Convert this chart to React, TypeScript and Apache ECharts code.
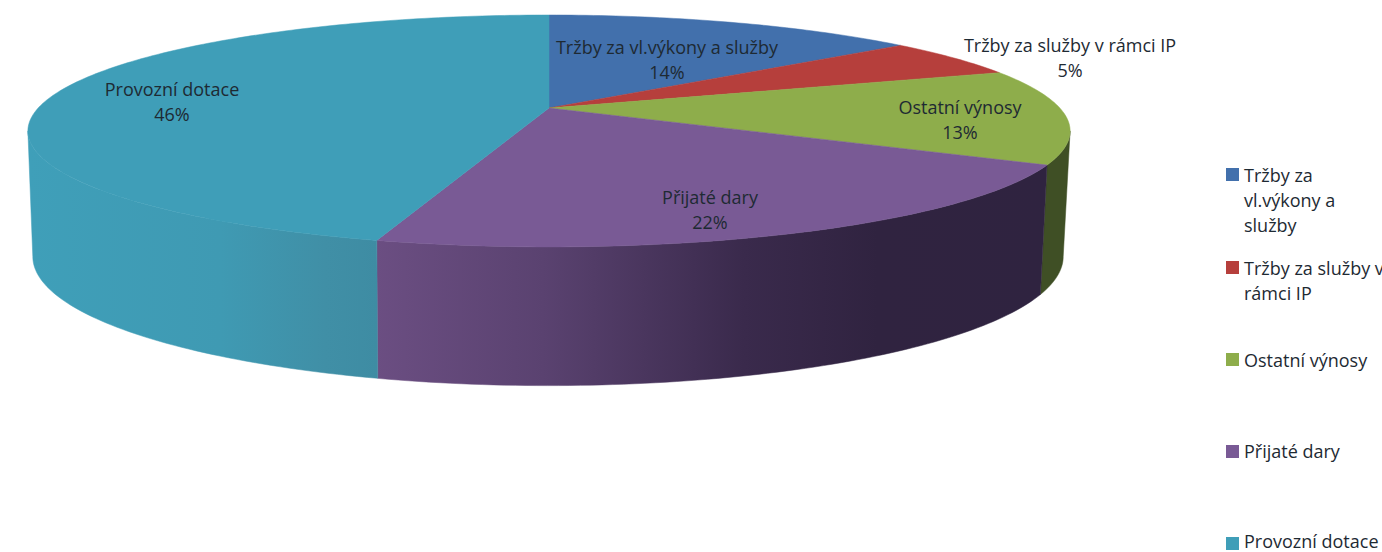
import React, { useEffect, useRef } from "react";
import * as echarts from "echarts";

const categories = [
  "Tržby za vl.výkony a služby",
  "Tržby za služby v rámci IP",
  "Ostatní výnosy",
  "Přijaté dary",
  "Provozní dotace",
];
const shares = [14.1, 5.4, 13.2, 21.7, 45.6];
const legendNames = [
  "Tržby za\nvl.výkony a\nslužby",
  "Tržby za služby v\nrámci IP",
  "Ostatní výnosy",
  "Přijaté dary",
  "Provozní dotace",
];
const topColors = ["#4270AC", "#B63F3C", "#8EAD4B", "#795A95", "#3F9EB8"];

// layout
const FONT = "'Open Sans'";
const FONT_SIZE = 18;
const TEXT = "#1E2A33";
const TOP = { cx: 549, cy: 108, r: 510.8, k: 111.4, p: -0.198 };
const BOTTOM = { cx: 548, cy: 231, r: 505, k: 124, p: -0.198 };
const SIDE_FROM = 101.4;
const SIDE_TO = 258.6;
const labelCentres = [
  [667, 59],
  [1070, 57],
  [960, 119],
  [710, 209],
  [172, 101],
];
const legendY = [175, 268, 360, 451, 541];
const legendBoxY = [175, 268, 360, 452, 544];

type Disc = typeof TOP;
function project(d: Disc, deg: number): number[] {
  const t = (deg * Math.PI) / 180;
  const x = Math.sin(t);
  const y = -Math.cos(t);
  const w = 1 + d.p * y;
  return [d.cx + (d.r * x) / w, d.cy + (d.k * y) / w];
}
function arc(d: Disc, a: number, b: number): number[][] {
  const n = Math.max(2, Math.ceil(Math.abs(b - a)));
  const out: number[][] = [];
  for (let i = 0; i <= n; i++) out.push(project(d, a + ((b - a) * i) / n));
  return out;
}

const total = shares.reduce((s, v) => s + v, 0);
function bounds(i: number): [number, number] {
  let sum = 0;
  for (let j = 0; j < i; j++) sum += shares[j];
  return [(sum / total) * 360, ((sum + shares[i]) / total) * 360];
}

function grad(x0: number, x1: number, stops: [number, string][]) {
  return new echarts.graphic.LinearGradient(
    x0,
    0,
    x1,
    0,
    stops.map(([offset, color]) => ({ offset, color })),
    true
  );
}
const sideFills = (): any[] => [
  "#3F4E24",
  "#3F4E24",
  "#3F4F25",
  grad(376, 1045, [
    [0, "#6B4E82"],
    [0.25, "#5A4270"],
    [0.55, "#3A2A4C"],
    [0.75, "#302340"],
    [1, "#2F2340"],
  ]),
  grad(28, 378, [
    [0, "#3F9FB9"],
    [0.55, "#3F9AB3"],
    [0.85, "#408FA6"],
    [1, "#3E8CA3"],
  ]),
];

export default function App() {
  const ref = useRef<HTMLDivElement>(null);
  useEffect(() => {
    document.body.style.margin = "0";
    const chart = echarts.init(ref.current!, undefined, { renderer: "svg" });
    const fills = sideFills();
    const rows = shares.map((v, i) => [i, v]);
    const option: any = {
      animation: false,
      backgroundColor: "#ffffff",
      series: [
        {
          type: "custom",
          coordinateSystem: "none",
          silent: true,
          z: 1,
          data: rows,
          renderItem: (_p: any, api: any) => {
            const i = api.value(0);
            const [a0, b0] = bounds(i);
            const a = Math.max(a0, SIDE_FROM);
            const b = Math.min(b0, SIDE_TO);
            if (b <= a) return { type: "group", children: [] };
            const points = [...arc(TOP, a, b), ...arc(BOTTOM, b, a)];
            return {
              type: "polygon",
              shape: { points },
              style: { fill: fills[i], stroke: fills[i], lineWidth: 0.5 },
            };
          },
        },
        {
          type: "custom",
          coordinateSystem: "none",
          silent: true,
          z: 2,
          data: rows,
          renderItem: (_p: any, api: any) => {
            const i = api.value(0);
            const [a, b] = bounds(i);
            const points = [[TOP.cx, TOP.cy], ...arc(TOP, a, b)];
            return {
              type: "polygon",
              shape: { points },
              style: { fill: topColors[i], stroke: topColors[i], lineWidth: 0.5 },
            };
          },
        },
        {
          type: "custom",
          coordinateSystem: "none",
          silent: true,
          z: 3,
          data: rows,
          renderItem: (_p: any, api: any) => {
            const i = api.value(0);
            return {
              type: "text",
              x: labelCentres[i][0],
              y: labelCentres[i][1],
              style: {
                text: `${categories[i]}\n${Math.round(shares[i])}%`,
                fill: TEXT,
                font: `${FONT_SIZE}px ${FONT}`,
                lineHeight: 25,
                align: "center",
                verticalAlign: "middle",
              },
            };
          },
        },
      ],
      graphic: legendNames.flatMap((name, i) => {
        const lh = name.includes("\n") ? 25 : 19;
        return [
          {
            type: "rect",
            shape: { x: 1226, y: legendBoxY[i] - 7, width: 13, height: 13 },
            style: { fill: topColors[i] },
          },
          {
            type: "text",
            x: 1244,
            y: legendY[i] - (name.includes("\n") ? 12.5 : 9.5),
            style: {
              text: name,
              fill: TEXT,
              font: `${FONT_SIZE}px ${FONT}`,
              lineHeight: lh,
              align: "left",
              verticalAlign: "top",
            },
          },
        ];
      }),
    };
    chart.setOption(option);
    return () => chart.dispose();
  }, []);
  return <div ref={ref} style={{ width: 1382, height: 552 }} />;
}
